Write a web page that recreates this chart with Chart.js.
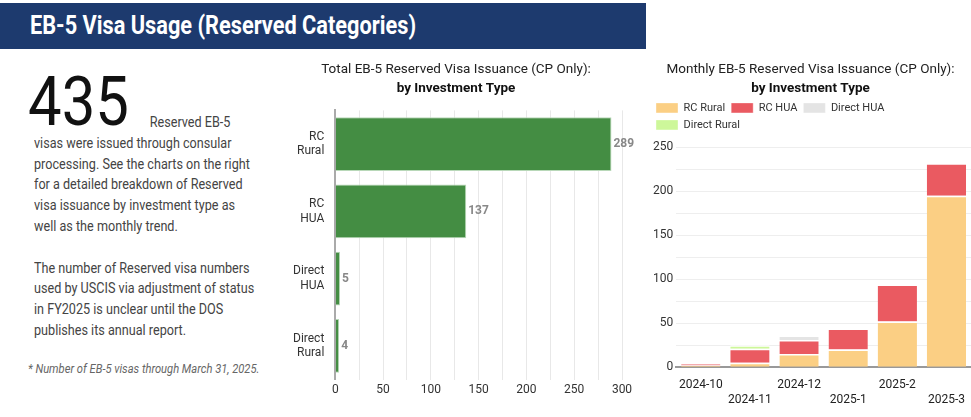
<!DOCTYPE html>
<html><head><meta charset="utf-8">
<script src="https://cdn.jsdelivr.net/npm/chart.js@4"></script>
<style>
body{margin:0;width:971px;height:417px;background:#fff;font-family:Roboto,sans-serif;position:relative;overflow:hidden}
#bar{position:absolute;left:0;top:3px;width:646px;height:46px;background:#1d3a6e}
#bar span{position:absolute;left:30px;top:0;color:#fff;font-weight:bold;font-size:25px;line-height:46px;transform:scaleX(0.87);transform-origin:left;white-space:nowrap}
#big{position:absolute;left:28px;top:62px;font-size:68px;color:#111;font-weight:400;transform:scaleX(0.88);transform-origin:left}
#txt{position:absolute;left:34px;top:112px;width:254px;font-size:14.2px;color:#444;line-height:20.8px;transform:scaleX(0.89);transform-origin:left top}
#note{position:absolute;left:28px;top:362px;font-size:12px;color:#666;font-style:italic;transform:scaleX(0.93);transform-origin:left;white-space:nowrap}
.c{position:absolute}
</style></head><body>
<div id="bar"><span>EB-5 Visa Usage (Reserved Categories)</span></div>
<div id="big">435</div>
<div id="txt"><span style="display:inline-block;width:130px"></span>Reserved EB-5<br>visas were issued through consular processing. See the charts on the right for a detailed breakdown of Reserved visa issuance by investment type as well as the monthly trend.<br><br>The number of Reserved visa numbers used by USCIS via adjustment of status in FY2025 is unclear until the DOS publishes its annual report.</div>
<div id="note">* Number of EB-5 visas through March 31, 2025.</div>
<div class="c" style="left:290px;top:58px;width:352px;height:342px"><canvas id="c1"></canvas></div>
<div class="c" style="left:650px;top:58px;width:321px;height:352px"><canvas id="c2"></canvas></div>
<script>
const typeLabels=[["RC","Rural"],["RC","HUA"],["Direct","HUA"],["Direct","Rural"]];
const typeTotals=[289,137,5,4];
const months=["2024-10","2024-11","2024-12","2025-1","2025-2","2025-3"];
const rcRural=[2,5,15,20,52,195];
const rcHua=[2,16,16,24,42,37];
const directHua=[0,0,5,0,0,0];
const directRural=[0,4,0,0,0,0];
const monthTicks=[0,25,50,75,100,125,150,175,200,225,250];

Chart.defaults.font.family="Roboto";
Chart.defaults.animation=false;
const titleOpts=t=>({display:true,text:t,color:'#222',font:{size:13.5,weight:'normal'},padding:{top:4,bottom:0}});
const subOpts=t=>({display:true,text:t,color:'#111',font:{size:13.5,weight:'bold'},padding:{top:2,bottom:14}});
const valLabels={id:'vl',afterDatasetsDraw(ch){const ctx=ch.ctx;const m=ch.getDatasetMeta(0);ctx.save();ctx.fillStyle='#888';ctx.font='bold 12px Roboto';ctx.textBaseline='middle';m.data.forEach((b,i)=>ctx.fillText(typeTotals[i],b.x+2,b.y));ctx.restore();}};
new Chart(document.getElementById('c1'),{type:'bar',plugins:[valLabels],
data:{labels:typeLabels,datasets:[{data:typeTotals,backgroundColor:'#448d43',borderColor:'#b8d8b8',borderWidth:1,barPercentage:0.8,categoryPercentage:1}]},
options:{indexAxis:'y',responsive:true,maintainAspectRatio:false,layout:{padding:{right:20}},
plugins:{legend:{display:false},title:titleOpts('Total EB-5 Reserved Visa Issuance (CP Only):'),subtitle:subOpts('by Investment Type'),tooltip:{enabled:false}},
scales:{x:{min:0,max:300,ticks:{stepSize:25,maxRotation:0,autoSkip:false,color:'#333',font:{size:12},callback:v=>v%50===0?v:''},grid:{color:'#e8e8e8',drawTicks:false},border:{display:false}},
y:{ticks:{color:'#333',font:{size:12}},grid:{display:false},border:{color:'#aaa',width:2}}}}});
const ds=(l,d,c)=>({label:l,data:d,backgroundColor:c,borderColor:'#fff',borderWidth:{top:1.5},barPercentage:0.8,categoryPercentage:1});
new Chart(document.getElementById('c2'),{type:'bar',
data:{labels:months,datasets:[ds('RC Rural',rcRural,'#fbcf84'),ds('RC HUA',rcHua,'#ea5a61'),ds('Direct HUA',directHua,'#e4e4e4'),ds('Direct Rural',directRural,'#cdf79a')]},
options:{responsive:true,maintainAspectRatio:false,
plugins:{title:titleOpts('Monthly EB-5 Reserved Visa Issuance (CP Only):'),subtitle:{...subOpts('by Investment Type'),padding:{top:2,bottom:0}},tooltip:{enabled:false},
legend:{align:'start',labels:{boxWidth:22,boxHeight:10,color:'#333',font:{size:11},padding:6}}},
scales:{x:{stacked:true,grid:{display:false},border:{color:'#999',width:2},ticks:{color:'#222',font:{size:12},maxRotation:0,autoSkip:false,callback:function(v,i){return i%2===0?months[i]:['',months[i]];}}},
y:{stacked:true,min:0,max:258,afterBuildTicks:a=>{a.ticks=monthTicks.map(v=>({value:v}));},ticks:{autoSkip:false,color:'#333',font:{size:12},callback:v=>v%50===0?v:''},grid:{color:'#eee',drawTicks:false},border:{display:false}}}}});
</script></body></html>
